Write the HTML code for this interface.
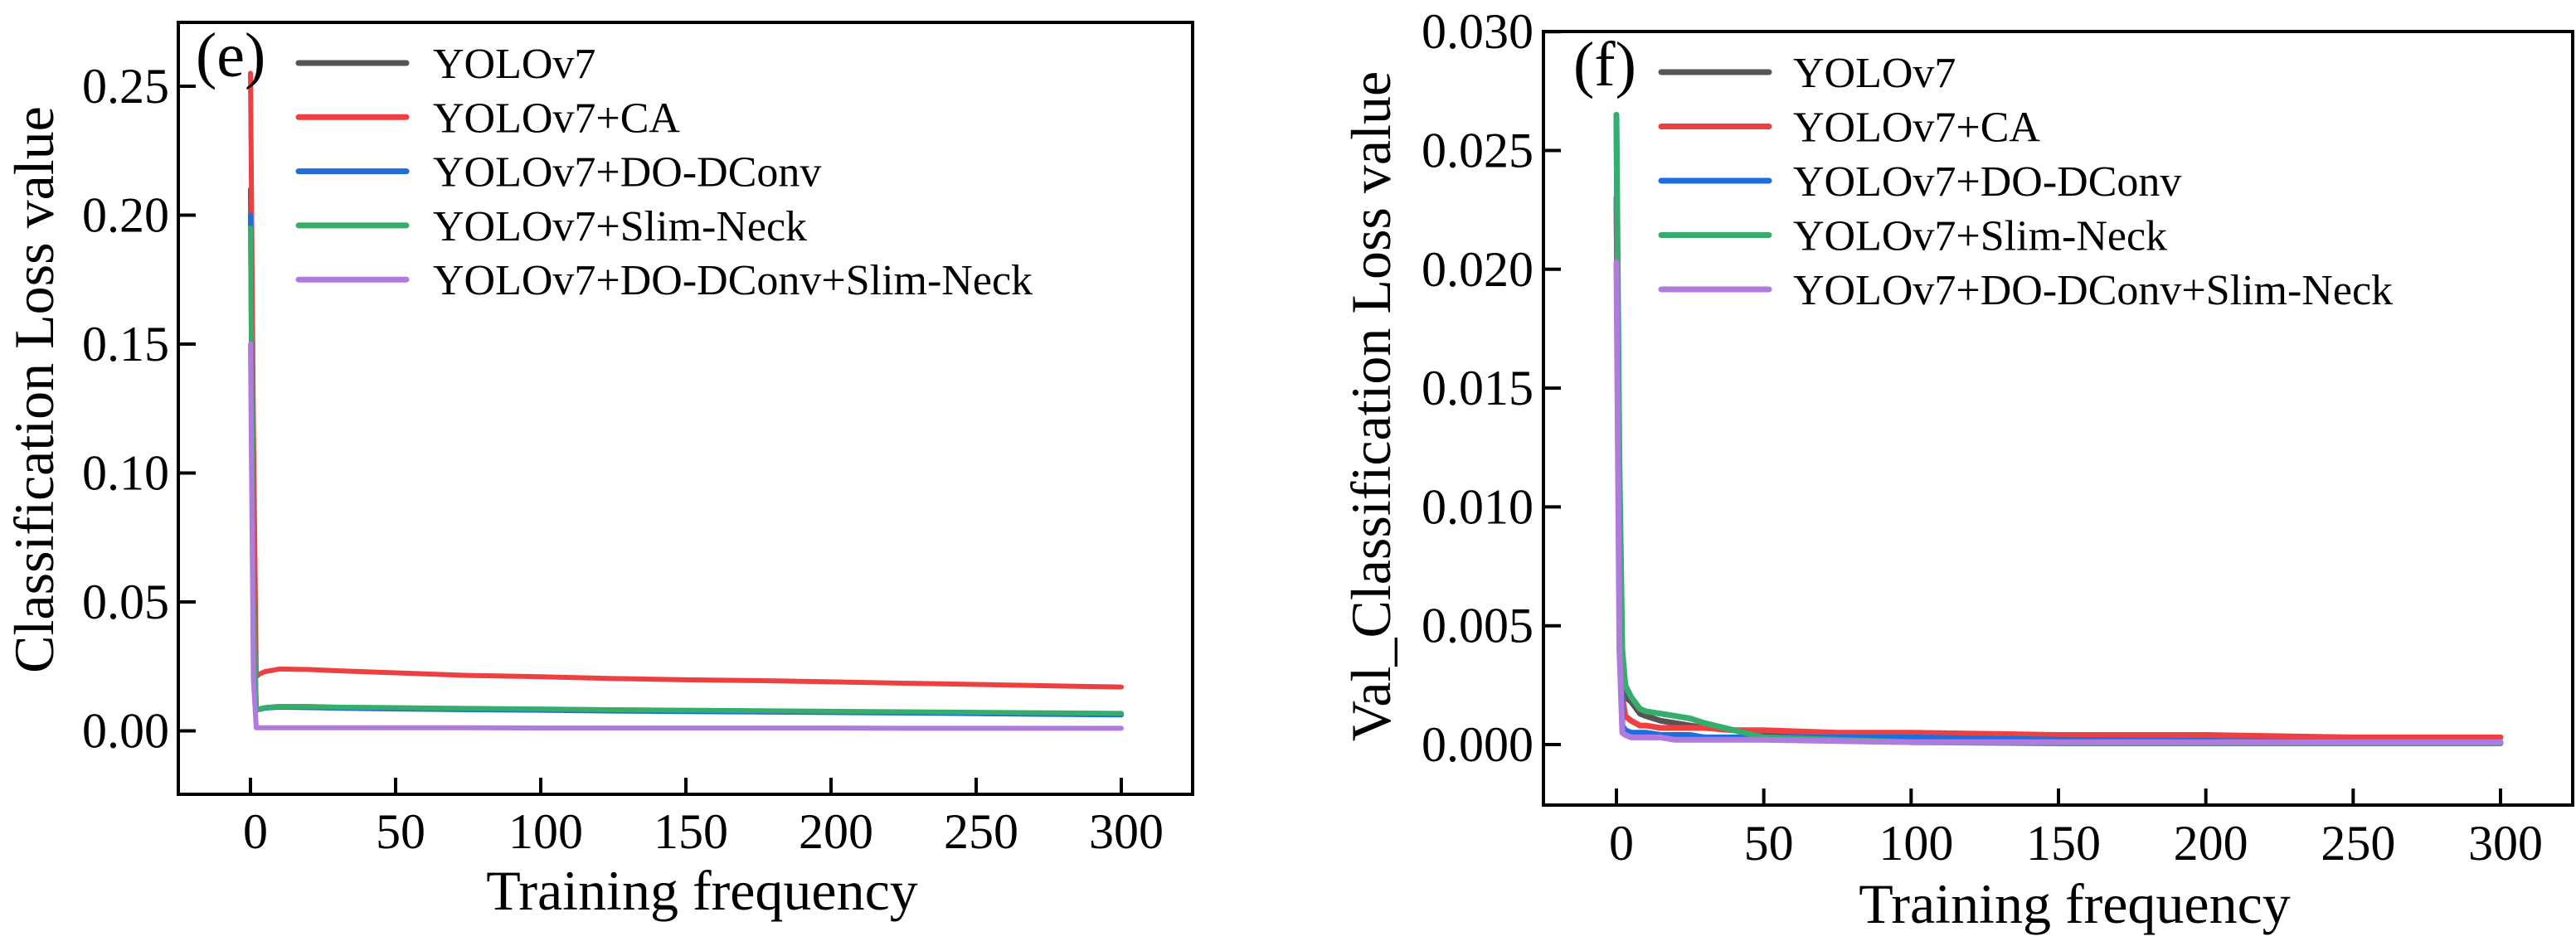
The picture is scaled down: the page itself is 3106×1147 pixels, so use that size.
<!DOCTYPE html>
<html><head><meta charset="utf-8"><style>
html,body{margin:0;padding:0;background:#fff;}
svg{display:block;}
text{font-family:"Liberation Serif","Times New Roman",serif;fill:#000;}
</style></head><body>
<svg id="fig" width="3106" height="1147" viewBox="0 0 3106 1147"></svg>
<script>
// ---------- Data ----------
const seriesNames = ["YOLOv7","YOLOv7+CA","YOLOv7+DO-DConv","YOLOv7+Slim-Neck","YOLOv7+DO-DConv+Slim-Neck"];
const seriesColors = ["#555555","#ee4040","#1a6fdf","#37ad6b","#b07ade"];
const xTicks = [0,50,100,150,200,250,300];

const eEpochs = [0,1,2,3,5,10,20,30,50,75,100,125,150,175,200,225,250,275,300];
const eYolo   = [0.21,0.06,0.008,0.0085,0.009,0.0095,0.0093,0.009,0.0088,0.0085,0.0083,0.008,0.0078,0.0076,0.0074,0.0072,0.007,0.0068,0.0066];
const eCA     = [0.255,0.12,0.021,0.022,0.023,0.024,0.0238,0.0233,0.0225,0.0215,0.021,0.0203,0.0198,0.0195,0.019,0.0185,0.018,0.0175,0.017];
const eDO     = [0.20,0.05,0.008,0.0083,0.0088,0.0092,0.009,0.0088,0.0085,0.0082,0.008,0.0077,0.0075,0.0073,0.0071,0.0069,0.0067,0.0064,0.0062];
const eSlim   = [0.195,0.05,0.008,0.0085,0.009,0.0095,0.0095,0.0092,0.009,0.0087,0.0085,0.0082,0.008,0.0078,0.0076,0.0074,0.0072,0.007,0.0068];
const eBoth   = [0.15,0.02,0.0012,0.0012,0.0012,0.0012,0.0012,0.0012,0.0012,0.0012,0.0011,0.0011,0.0011,0.0011,0.0011,0.001,0.001,0.001,0.001];
const eYTicks = [0.00,0.05,0.10,0.15,0.20,0.25];
const eYLabels = ["0.00","0.05","0.10","0.15","0.20","0.25"];

const fEpochs = [0,1,2,3,5,8,10,15,20,25,30,40,50,75,100,150,200,250,300];
const fYolo   = [0.023,0.01,0.003,0.002,0.0018,0.0013,0.0012,0.001,0.0009,0.0008,0.0007,0.0006,0.0005,0.0004,0.0003,0.00025,0.0002,0.00015,0.0001];
const fCA     = [0.023,0.01,0.002,0.0012,0.001,0.0008,0.0008,0.0007,0.0007,0.0007,0.0007,0.0006,0.0006,0.0005,0.0005,0.0004,0.0004,0.0003,0.0003];
const fDO     = [0.0265,0.006,0.0008,0.0006,0.0005,0.0005,0.0005,0.0004,0.0004,0.0004,0.0003,0.0003,0.0003,0.0003,0.0003,0.0002,0.00015,0.0001,0.0001];
const fSlim   = [0.0265,0.012,0.004,0.0025,0.002,0.0015,0.0014,0.0013,0.0012,0.0011,0.0009,0.0006,0.0003,0.0002,0.0001,0.00005,0.00005,0.00005,0.00005];
const fBoth   = [0.0203,0.004,0.0005,0.0004,0.0003,0.0003,0.0003,0.0003,0.0002,0.0002,0.0002,0.0002,0.0002,0.00015,0.0001,0.0001,0.0001,0.0001,0.0001];
const fYTicks = [0.000,0.005,0.010,0.015,0.020,0.025,0.030];
const fYLabels = ["0.000","0.005","0.010","0.015","0.020","0.025","0.030"];

const NS="http://www.w3.org/2000/svg";
const svg=document.getElementById('fig');
function mk(tag,attrs,parent){const el=document.createElementNS(NS,tag);for(const k in attrs)el.setAttribute(k,attrs[k]);(parent||svg).appendChild(el);return el;}

function drawPanel(p){
  const g=mk('g',{});
  
  
  const xs=v=>p.x0+(v-0)*(p.x300-p.x0)/300;
  const ys=v=>p.y0-(v-0)*p.ppu;
  [0,1,2,3,4].forEach(i=>{
    const d=p.series[i].map((v,j)=>(j?'L':'M')+xs(p.epochs[j]).toFixed(1)+','+ys(v).toFixed(1)).join(' ');
    const path=mk('path',{d:d,fill:'none',stroke:seriesColors[i],'stroke-width':p.lw,'stroke-linejoin':'round','stroke-linecap':'round'},g);
    
    
  });
  const fr=mk('rect',{x:p.L,y:p.T,width:p.R-p.L,height:p.B-p.T,fill:'none',stroke:'#000','stroke-width':4},g);
  
  
  xTicks.forEach(t=>{
    const x=xs(t);
    mk('line',{x1:x,y1:p.B,x2:x,y2:p.B-20,stroke:'#000','stroke-width':4},g);
    const tx=mk('text',{x:x+6,y:p.xLabY,'font-size':60,'text-anchor':'middle'},g);
    tx.textContent=t;
    
    
  });
  p.yTicks.forEach((t,i)=>{
    const y=ys(t);
    mk('line',{x1:p.L,y1:y,x2:p.L+21,y2:y,stroke:'#000','stroke-width':4},g);
    const ty=mk('text',{x:p.yLabR,y:y+20,'font-size':60,'text-anchor':'end'},g);
    ty.textContent=p.yLabels[i];
    
    
  });
  const xt=mk('text',{x:(p.L+p.R)/2+20,y:p.xTitleY,'font-size':68,'text-anchor':'middle'},g);
  xt.textContent='Training frequency';
  
  
  const yt=mk('text',{x:0,y:0,'font-size':68,'text-anchor':'middle',transform:`translate(${p.yTitleX},${p.yTitleC}) rotate(-90)`},g);
  yt.textContent=p.yTitle;
  
  
  const pl=mk('text',{x:p.letterX,y:p.letterY,'font-size':76},g);
  pl.textContent=p.letter;
  
  
  seriesNames.forEach((n,i)=>{
    const y=p.legY0+i*p.legDy;
    const ln=mk('line',{x1:p.legX1,y1:y,x2:p.legX2,y2:y,stroke:seriesColors[i],'stroke-width':7,'stroke-linecap':'round'},g);
    
    
    const lt=mk('text',{x:p.legTX,y:y+18,'font-size':52},g);
    lt.textContent=n;
    
    
  });
}

drawPanel({id:'e',L:215,T:27,R:1438,B:958,x0:302,x300:1352,y0:881.5,ppu:3110,
  epochs:eEpochs,series:[eYolo,eCA,eDO,eSlim,eBoth],lw:6,
  yTicks:eYTicks,yLabels:eYLabels,yLabR:204,xLabY:1023,xTitleY:1097,
  yTitle:'Classification Loss value',yTitleX:64,yTitleC:470,
  letter:'(e)',letterX:236,letterY:92,
  legY0:76,legDy:65.3,legX1:360,legX2:490,legTX:522});

drawPanel({id:'f',L:1861,T:38,R:3102,B:971,x0:1949,x300:3015,y0:898,ppu:28660,
  epochs:fEpochs,series:[fYolo,fCA,fDO,fSlim,fBoth],lw:7,
  yTicks:fYTicks,yLabels:fYLabels,yLabR:1849,xLabY:1037,xTitleY:1113,
  yTitle:'Val_Classification Loss value',yTitleX:1676,yTitleC:490,
  letter:'(f)',letterX:1897,letterY:103,
  legY0:87,legDy:65.5,legX1:2003,legX2:2133,legTX:2162});
</script>
</body></html>
